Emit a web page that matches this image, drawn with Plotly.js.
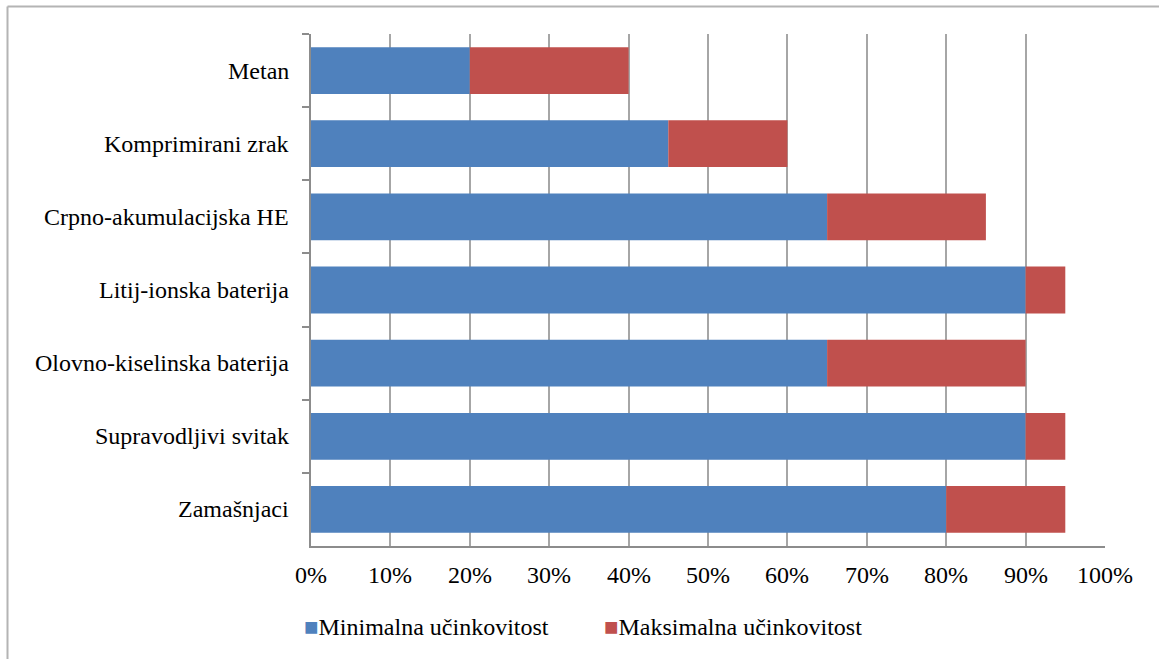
<!DOCTYPE html>
<html>
<head>
<meta charset="utf-8">
<script src="https://cdn.plot.ly/plotly-3.0.1.min.js"></script>
<style>
html,body{margin:0;padding:0;background:#fff;}
</style>
</head>
<body>
<div id="chart"></div>
<script>
// Data (top to bottom)
const categories = [
  "Metan",
  "Komprimirani zrak",
  "Crpno-akumulacijska HE",
  "Litij-ionska baterija",
  "Olovno-kiselinska baterija",
  "Supravodljivi svitak",
  "Zamašnjaci"
];
const minEfficiency = [20, 45, 65, 90, 65, 90, 80];
const maxEfficiency = [40, 60, 85, 95, 90, 95, 95];
const seriesNames = ["Minimalna učinkovitost", "Maksimalna učinkovitost"];
const seriesColors = ["#4f81bd", "#c0504d"];
const xTickVals = [0,10,20,30,40,50,60,70,80,90,100];
const xTickText = ["0%","10%","20%","30%","40%","50%","60%","70%","80%","90%","100%"];

const W = 1159, H = 659;
const M = {l: 311, r: 54, t: 34, b: 113};
const pw = W - M.l - M.r, ph = H - M.t - M.b;
const px = v => (v - M.l) / pw;
const py = v => (H - M.b - v) / ph;

const FONT = {family: "Liberation Serif", size: 24, color: "#000000"};
const gridCol = "#a6a6a6";

const traces = [
  {
    type: "bar", orientation: "h", name: seriesNames[0],
    y: categories, x: minEfficiency,
    marker: {color: seriesColors[0]},
    hoverinfo: "x+y"
  },
  {
    type: "bar", orientation: "h", name: seriesNames[1],
    y: categories, base: minEfficiency,
    x: maxEfficiency.map((v, i) => v - minEfficiency[i]),
    marker: {color: seriesColors[1]},
    hoverinfo: "x+y"
  }
];

const annotations = [];
// category labels
categories.forEach(c => annotations.push({
  xref: "paper", yref: "y", x: px(291), y: c,
  xanchor: "right", yanchor: "middle", showarrow: false,
  text: c, font: Object.assign({}, FONT)
}));
// x tick labels
xTickVals.forEach((v, i) => annotations.push({
  xref: "x", yref: "paper", x: v, y: py(575),
  xanchor: "center", yanchor: "middle", showarrow: false,
  text: xTickText[i], font: Object.assign({}, FONT)
}));
// legend
const legendX = [302, 602];
seriesNames.forEach((n, i) => annotations.push({
  xref: "paper", yref: "paper", x: px(legendX[i]), y: py(627),
  xanchor: "left", yanchor: "middle", showarrow: false,
  text: "<span style='color:" + seriesColors[i] + "'>■</span>" + n,
  font: Object.assign({}, FONT)
}));

const layout = {
  width: W, height: H,
  margin: M,
  paper_bgcolor: "#fff", plot_bgcolor: "#fff",
  barmode: "overlay",
  bargap: 0.36,
  showlegend: false,
  xaxis: {
    range: [0, 100],
    tickvals: xTickVals, ticktext: xTickText,
    showticklabels: false,
    showgrid: true, gridcolor: gridCol, gridwidth: 1.5,
    showline: true, linecolor: "#8c8c8c", linewidth: 1.5,
    ticks: "", zeroline: false,
    fixedrange: true
  },
  yaxis: {
    type: "category",
    categoryorder: "array", categoryarray: categories,
    autorange: "reversed",
    showticklabels: false,
    showgrid: false,
    showline: true, linecolor: "#8c8c8c", linewidth: 1.5,
    ticks: "outside", ticklen: 7, tickcolor: "#8c8c8c", tickwidth: 1.5,
    tickson: "boundaries",
    fixedrange: true
  },
  annotations: annotations,
  shapes: [
    {type: "line", xref: "paper", yref: "paper",
     x0: px(7.5), x1: px(7.5), y0: py(6.5), y1: py(670),
     line: {color: "#b4b4b4", width: 2}},
    {type: "line", xref: "paper", yref: "paper",
     x0: px(7.5), x1: px(1170), y0: py(6.5), y1: py(6.5),
     line: {color: "#b4b4b4", width: 2}}
  ]
};

Plotly.newPlot("chart", traces, layout, {displayModeBar: false});
</script>
</body>
</html>
